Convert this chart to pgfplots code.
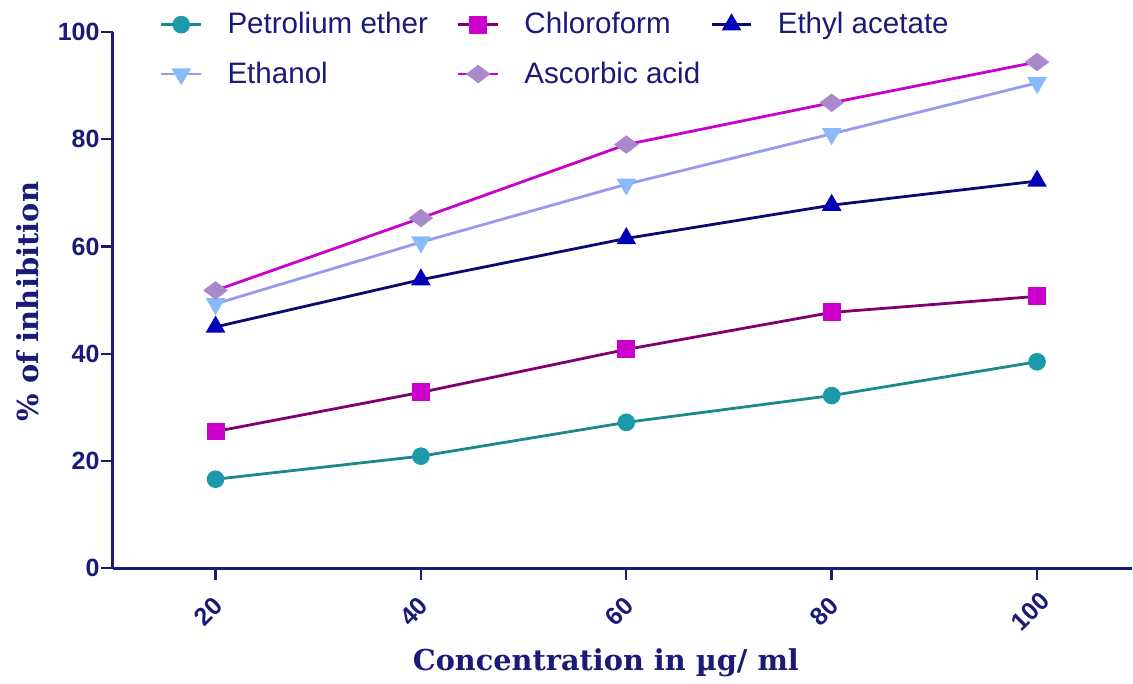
\documentclass[border=0pt]{standalone}
\usepackage{pgfplots}
\pgfplotsset{compat=1.18}
\usepackage{fontspec}
\setmainfont{Liberation Sans}
\newfontfamily\serifb{DejaVu Serif}
\definecolor{navy}{HTML}{1A1A78}
\definecolor{pline}{HTML}{1A8A8C}
\definecolor{pmark}{HTML}{1A9AAA}
\definecolor{cline}{HTML}{800070}
\definecolor{cmark}{HTML}{CC00CC}
\definecolor{eline}{HTML}{0A0A70}
\definecolor{emark}{HTML}{0000B8}
\definecolor{etline}{HTML}{9999EE}
\definecolor{etmark}{HTML}{88BBF8}
\definecolor{aline}{HTML}{CC00CC}
\definecolor{amark}{HTML}{AA88CC}
\begin{document}
\begin{tikzpicture}
\begin{axis}[
  scale only axis,
  width=510pt, height=268.5pt,
  xmin=10, xmax=109.2, ymin=0, ymax=100,
  axis x line=bottom, axis y line=left,
  axis line style={navy, line width=1.5pt, -},
  xtick={20,40,60,80,100}, ytick={0,20,40,60,80,100},
  tick style={navy, line width=1.2pt},
  tick align=outside, major tick length=6pt,
  every tick label/.append style={font=\fontsize{12.5}{14}\selectfont\bfseries, text=navy},
  xticklabel style={xshift=-3.5pt, yshift=-15.5pt, rotate=45, anchor=center, inner sep=0pt},
  yticklabel style={inner xsep=0.5pt},
  /pgf/number format/assume math mode=true,
  xlabel={\serifb\bfseries Concentration in µg/ ml},
  ylabel={\serifb\bfseries \% of inhibition},
  xlabel style={font=\fontsize{14.4}{16}\selectfont, text=navy, at={(axis description cs:0.484,-0.176)}, anchor=center},
  ylabel style={font=\fontsize{14.5}{16}\selectfont, text=navy, at={(axis description cs:-0.0833,0.497)}, anchor=center},
  legend columns=3,
  legend cell align=left,
  legend image code/.code={\draw[mark repeat=2, mark phase=2, #1] plot coordinates {(0cm,0cm) (0.35cm,0cm) (0.7cm,0cm)};},
  legend style={at={(axis description cs:0.040,1.052)}, anchor=north west, draw=none, fill=none,
    font=\fontsize{14.8}{17}\selectfont, text=navy,
    row sep=8.5pt,
    /tikz/every odd column/.append style={column sep=10.5pt},
    /tikz/column 2/.style={column sep=12.5pt},
    /tikz/column 4/.style={column sep=3pt}},
  after end axis/.code={
    \path (rel axis cs:0,1) ++(-56.5pt,16pt);
    \path (rel axis cs:0,0) ++(0pt,-56pt);
  },
]
\addplot[pline, line width=1.4pt, mark=*, mark size=3.7pt, mark options={fill=pmark, draw=pmark}]
  coordinates {(20,16.6) (40,20.9) (60,27.2) (80,32.2) (100,38.5)};
\addlegendentry{Petrolium ether}
\addplot[cline, line width=1.4pt, mark=square*, mark size=3.8pt, mark options={fill=cmark, draw=cmark}]
  coordinates {(20,25.5) (40,32.8) (60,40.8) (80,47.7) (100,50.7)};
\addlegendentry{Chloroform}
\addplot[eline, line width=1.4pt, mark=triangle*, mark size=4.3pt, mark options={fill=emark, draw=emark}]
  coordinates {(20,45.0) (40,53.8) (60,61.5) (80,67.7) (100,72.2)};
\addlegendentry{Ethyl acetate}
\addplot[etline, line width=1.4pt, mark=triangle*, mark size=4.3pt, mark options={fill=etmark, draw=etmark, rotate=180}]
  coordinates {(20,49.3) (40,60.8) (60,71.6) (80,81.0) (100,90.5)};
\addlegendentry{Ethanol}
\addplot[aline, line width=1.4pt, mark=diamond*, mark size=5pt, mark options={fill=amark, draw=amark, rotate=90}]
  coordinates {(20,51.8) (40,65.3) (60,79.0) (80,86.8) (100,94.4)};
\addlegendentry{Ascorbic acid}
\end{axis}
\end{tikzpicture}
\end{document}
